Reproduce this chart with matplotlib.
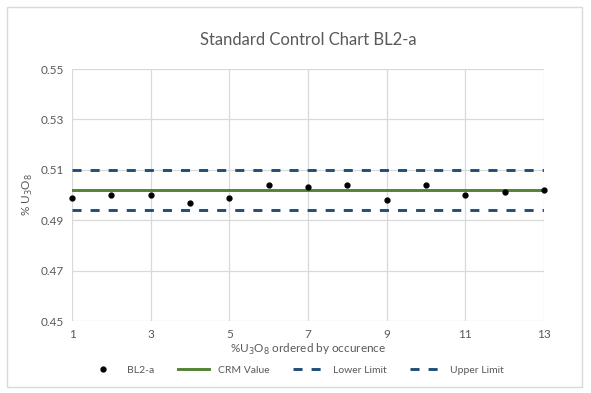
import matplotlib
matplotlib.use("Agg")
import matplotlib.pyplot as plt
from matplotlib.patches import Rectangle

# data
occurrence = [1, 2, 3, 4, 5, 6, 7, 8, 9, 10, 11, 12, 13]
bl2a = [0.499, 0.500, 0.500, 0.497, 0.499, 0.504, 0.503, 0.504, 0.498, 0.504, 0.500, 0.501, 0.502]
crm_value = 0.502
lower_limit = 0.494
upper_limit = 0.510
x_ticks = [1, 3, 5, 7, 9, 11, 13]
y_ticks = [0.45, 0.47, 0.49, 0.51, 0.53, 0.55]

plt.rcParams["font.family"] = ["Lato", "DejaVu Sans"]
grey_text = "#595959"
grid_col = "#d9d9d9"

fig = plt.figure(figsize=(5.91, 3.93), dpi=100)
ax = fig.add_axes([72 / 591, 1 - 321 / 393, 472 / 591, 252 / 393])

ax.plot(occurrence, bl2a, "o", color="black", markersize=3.5, label="BL2-a", zorder=5, clip_on=False)
ax.plot([occurrence[0], occurrence[-1]], [crm_value] * 2, color="#548235", lw=2.1, label="CRM Value")
ax.plot([occurrence[0], occurrence[-1]], [lower_limit] * 2, color="#1f4e79", lw=2.1,
        dashes=(3.1, 3.1), label="Lower Limit")
ax.plot([occurrence[0], occurrence[-1]], [upper_limit] * 2, color="#1f4e79", lw=2.1,
        dashes=(3.1, 3.1), label="Upper Limit")

ax.set_xlim(1, 13)
ax.set_ylim(0.45, 0.55)
ax.set_xticks(x_ticks)
ax.set_yticks(y_ticks)
ax.set_yticklabels([f"{v:.2f}" for v in y_ticks])
ax.tick_params(length=0, labelsize=8.5, labelcolor=grey_text, pad=6)
ax.grid(True, color=grid_col, lw=0.9)
ax.set_axisbelow(True)
for s in ax.spines.values():
    s.set_visible(False)

ax.set_title("Standard Control Chart BL2-a", fontsize=12, color=grey_text, pad=17)
ax.set_xlabel("%U$_3$O$_8$ ordered by occurence", fontsize=8.5, color=grey_text, labelpad=1)
ax.set_ylabel("% U$_3$O$_8$", fontsize=8.5, color=grey_text, labelpad=4)

fig.legend(loc="center", bbox_to_anchor=(0.5, 1 - 370 / 393), ncol=4, frameon=False,
           fontsize=7.5, labelcolor=grey_text, handlelength=3, columnspacing=2.3)

# chart border
fig.patches.append(Rectangle((7 / 591, 1 - 387 / 393), 575 / 591, 380 / 393,
                             transform=fig.transFigure, fill=False, edgecolor=grid_col, lw=1))

fig.savefig("out.png", dpi=100)
